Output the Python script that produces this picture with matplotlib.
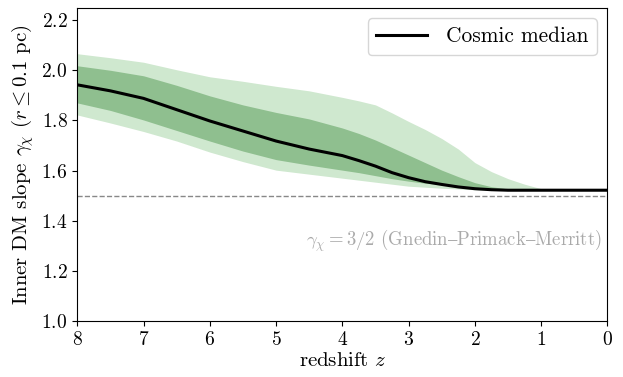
import matplotlib
matplotlib.use("Agg")
import matplotlib.pyplot as plt

plt.rcParams["font.family"] = "serif"
plt.rcParams["font.serif"] = ["cmr10"]
plt.rcParams["mathtext.fontset"] = "cm"
plt.rcParams["axes.formatter.use_mathtext"] = True

# redshift grid and percentiles of the inner slope
z = [8, 7.5, 7, 6.5, 6, 5.5, 5, 4.5, 4, 3.75, 3.5, 3.25, 3, 2.75, 2.5, 2.25, 2, 1.75, 1.5, 1.25, 1, 0.5, 0]
median = [1.942, 1.918, 1.888, 1.843, 1.798, 1.758, 1.718, 1.686, 1.66, 1.64, 1.618, 1.592,
          1.572, 1.556, 1.545, 1.535, 1.528, 1.524, 1.522, 1.522, 1.522, 1.522, 1.522]
dark_hi = [2.018, 2.0, 1.978, 1.94, 1.898, 1.862, 1.832, 1.806, 1.77, 1.748, 1.722, 1.692,
           1.662, 1.632, 1.602, 1.576, 1.552, 1.536, 1.527, 1.523, 1.522, 1.522, 1.522]
dark_lo = [1.87, 1.84, 1.802, 1.76, 1.718, 1.678, 1.644, 1.622, 1.602, 1.592, 1.58, 1.568,
           1.558, 1.55, 1.544, 1.538, 1.532, 1.527, 1.524, 1.522, 1.522, 1.522, 1.522]
light_hi = [2.066, 2.05, 2.032, 2.002, 1.974, 1.956, 1.936, 1.918, 1.892, 1.878, 1.862, 1.83,
            1.796, 1.764, 1.728, 1.686, 1.632, 1.596, 1.568, 1.546, 1.528, 1.522, 1.522]
light_lo = [1.822, 1.79, 1.756, 1.718, 1.674, 1.636, 1.602, 1.586, 1.57, 1.562, 1.554, 1.546,
            1.538, 1.534, 1.53, 1.527, 1.524, 1.523, 1.522, 1.522, 1.522, 1.522, 1.522]
gpm_slope = 1.5

fig, ax = plt.subplots(figsize=(6.23, 3.77), dpi=100)
fig.subplots_adjust(left=0.124, right=0.975, top=0.98, bottom=0.148)

ax.fill_between(z, light_lo, light_hi, color="#cfe8cf", lw=0)
ax.fill_between(z, dark_lo, dark_hi, color="#8fbf8f", lw=0)
ax.plot(z, median, color="black", lw=2.2, label="Cosmic median")
ax.axhline(gpm_slope, color="#888888", ls="--", lw=1)
# \text{} keeps the en dash (cmr10 has none, mathtext falls back)
ax.text(0.09, 1.32, r"$\gamma_\chi = 3/2$ (Gnedin$\text{–}$Primack$\text{–}$Merritt)",
        color="#aaaaaa", fontsize=13.5, ha="right", va="center")

ax.set_xlim(8, 0)
ax.set_ylim(1.0, 2.25)
ax.set_yticks([1.0, 1.2, 1.4, 1.6, 1.8, 2.0, 2.2])
ax.tick_params(labelsize=14)
ax.set_xlabel(r"redshift $z$", fontsize=15, labelpad=2)
ax.set_ylabel(r"Inner DM slope $\gamma_\chi$ ($r \leq 0.1$ pc)", fontsize=15)
ax.legend(loc="upper right", fontsize=15.4, handlelength=2.35, handletextpad=0.9,
          borderpad=0.4)

fig.savefig("out.png")
